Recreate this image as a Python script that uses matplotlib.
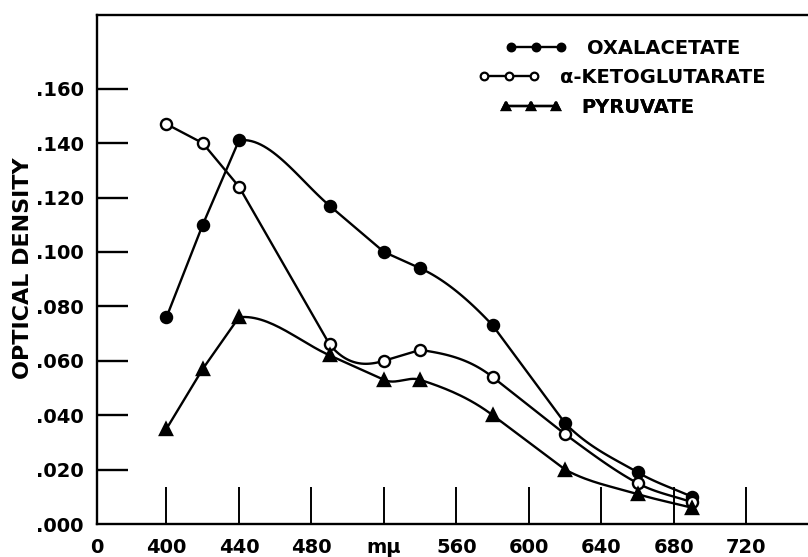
"""
Absorption spectra of the keto-acid derivatives: optical density vs wavelength.
"""

import numpy as np
import matplotlib.pyplot as plt
from matplotlib.lines import Line2D

wavelength = [400, 420, 440, 490, 520, 540, 580, 620, 660, 690]
oxalacetate = [0.076, 0.110, 0.141, 0.117, 0.100, 0.094, 0.073, 0.037, 0.019, 0.010]
ketoglutarate = [0.147, 0.140, 0.124, 0.066, 0.060, 0.064, 0.054, 0.033, 0.015, 0.008]
pyruvate = [0.035, 0.057, 0.076, 0.062, 0.053, 0.053, 0.040, 0.020, 0.011, 0.006]

x_ticks = [400, 440, 480, 520, 560, 600, 640, 680, 720]
x_ticklabels = ["400", "440", "480", "m\u03bc", "560", "600", "640", "680", "720"]
y_ticks = [0.0, 0.02, 0.04, 0.06, 0.08, 0.10, 0.12, 0.14, 0.16]
y_ticklabels = [".000", ".020", ".040", ".060", ".080", ".100", ".120", ".140", ".160"]

XMIN, XMAX = 361.5, 754.0


def drawn_path(x, y, curved, corners, n=30):
    """Join points with straight or French-curve style (Hermite) segments.

    curved[i] says whether segment i -> i+1 is drawn as a curve. At a node
    next to a straight segment the curve takes that segment's slope, except
    at `corners`, where a central difference is used instead.
    """
    x = np.asarray(x, float)
    y = np.asarray(y, float)
    h = np.diff(x)
    d = np.diff(y) / h
    last = len(x) - 1
    m = np.zeros_like(y)
    for i in range(len(x)):
        if i == 0:
            m[i] = d[0]
        elif i == last:
            m[i] = d[-1]
        elif i in corners or (curved[i - 1] and curved[i]):
            m[i] = (y[i + 1] - y[i - 1]) / (x[i + 1] - x[i - 1])
        elif not curved[i - 1]:
            m[i] = d[i - 1]
        else:
            m[i] = d[i]
    t = np.linspace(0, 1, n)[1:]
    h00 = 2 * t**3 - 3 * t**2 + 1
    h10 = t**3 - 2 * t**2 + t
    h01 = -2 * t**3 + 3 * t**2
    h11 = t**3 - t**2
    xs, ys = [x[0]], [y[0]]
    for i in range(last):
        if curved[i]:
            xs.extend(x[i] + t * h[i])
            ys.extend(h00 * y[i] + h10 * h[i] * m[i] + h01 * y[i + 1]
                      + h11 * h[i] * m[i + 1])
        else:
            xs.append(x[i + 1])
            ys.append(y[i + 1])
    return np.array(xs), np.array(ys)


plt.rcParams["font.family"] = ["DejaVu Sans"]
plt.rcParams["font.weight"] = "bold"

fig = plt.figure(figsize=(8.08, 5.57), dpi=100)
ax = fig.add_axes([0.1197, 0.0592, 0.8803, 0.9139])

F, T = False, True
series = [
    (oxalacetate, "o", "black", [F, F, T, F, F, T, F, T, T], {2, 6, 7},
     "OXALACETATE", (0.574, 0.935)),
    (ketoglutarate, "o", "white", [F, F, F, T, F, T, F, T, T], {3, 5, 7},
     "\u03b1-KETOGLUTARATE", (0.536, 0.878)),
    (pyruvate, "^", "black", [F, F, T, F, T, T, F, T, T], {2, 7},
     "PYRUVATE", (0.567, 0.819)),
]
for vals, mk, fc, curved, corners, label, anchor in series:
    xs, ys = drawn_path(wavelength, vals, curved, corners)
    ax.plot(xs, ys, color="black", lw=1.7, zorder=2)
    ax.plot(wavelength, vals, ls="none", marker=mk, ms=8, mfc=fc, mec="black",
            mew=1.7, zorder=3)
    hnd = Line2D([], [], color="black", lw=1.7, marker=mk, ms=5.5,
                 mfc=fc, mec="black", mew=1.6, label=label)
    leg = ax.legend(handles=[hnd], loc="center left", bbox_to_anchor=anchor,
                    frameon=False, numpoints=3, handlelength=3.2,
                    handletextpad=1.0, borderpad=0, borderaxespad=0,
                    prop={"size": 14, "weight": "bold"})
    ax.add_artist(leg)

ax.set_xlim(XMIN, XMAX)
ax.set_ylim(0, 0.1871)

ax.set_xticks([XMIN] + x_ticks)
ax.set_xticklabels(["0"] + x_ticklabels)
ax.set_yticks(y_ticks)
ax.set_yticklabels(y_ticklabels)
ax.tick_params(axis="x", direction="in", length=27, width=1.4, pad=10, labelsize=14)
ax.tick_params(axis="y", direction="in", length=22, width=1.7, pad=9.5, labelsize=14)
ax.xaxis.get_major_ticks()[0].tick1line.set_visible(False)
ax.yaxis.get_major_ticks()[0].tick1line.set_visible(False)

for side in ["left", "bottom", "top"]:
    ax.spines[side].set_linewidth(1.7)
ax.spines["right"].set_visible(False)

ax.set_ylabel("OPTICAL DENSITY", fontsize=16, fontweight="bold")
ax.yaxis.set_label_coords(-0.090, 0.503)

plt.savefig("out.png", dpi=100)
